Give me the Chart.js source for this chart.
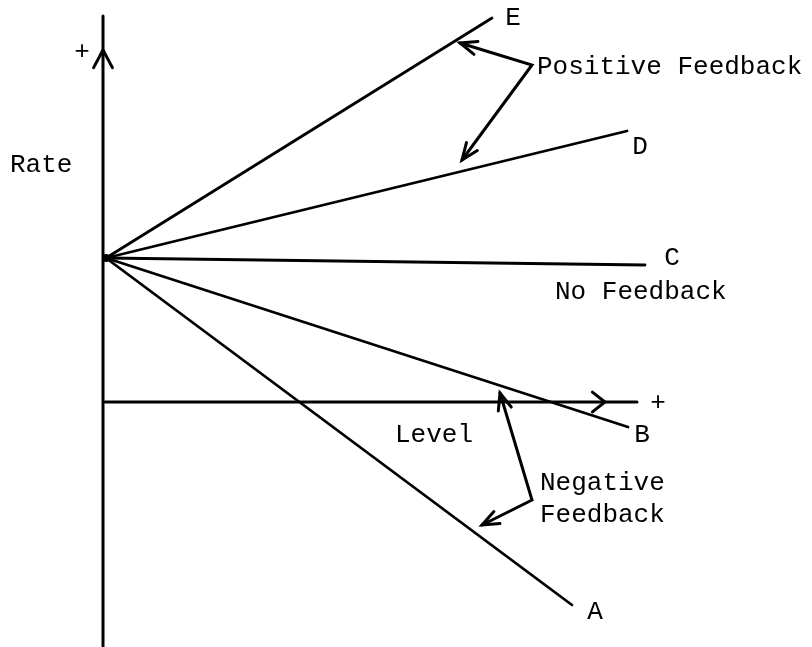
<!DOCTYPE html>
<html>
<head>
<meta charset="utf-8">
<script src="https://cdn.jsdelivr.net/npm/chart.js@4.4.1/dist/chart.umd.min.js"></script>
<style>
  html, body { margin: 0; padding: 0; background: #fff; }
  canvas { display: block; }
</style>
</head>
<body>
<canvas id="chart" width="812" height="647"></canvas>
<script>
// Rate lines, all leaving the same point on the Rate axis
const lineNames = ["A", "B", "C", "D", "E"];
const endLevel = [4.69, 5.25, 5.42, 5.24, 3.89];
const endRate = [-2.03, -0.25, 1.37, 2.71, 3.84];
const startLevel = 0.03;
const startRate = 1.44;

// Axes extent (level axis at rate = 0, rate axis at level = 0)
const levelAxis = [0.02, 5.34];
const rateAxis = [-2.45, 3.86];

// Feedback brackets: [tip, corner, tip]
const positiveBracket = [[3.57, 3.59], [4.29, 3.37], [3.59, 2.42]];
const negativeBracket = [[3.97, 0.09], [4.29, -0.98], [3.79, -1.23]];

const ink = "#000";
const font = '26px "Liberation Mono", "Courier New", monospace';

const pts = (arr) => arr.map((p) => ({ x: p[0], y: p[1] }));

const datasets = [];

// Axes
datasets.push({
  data: [{ x: 0, y: rateAxis[0] }, { x: 0, y: rateAxis[1] }],
  borderColor: ink, borderWidth: 3,
});
datasets.push({
  data: [{ x: levelAxis[0], y: 0 }, { x: levelAxis[1], y: 0 }],
  borderColor: ink, borderWidth: 3,
});

// Lines A..E
lineNames.forEach((name, i) => {
  datasets.push({
    label: name,
    data: [{ x: startLevel, y: startRate }, { x: endLevel[i], y: endRate[i] }],
    borderColor: ink, borderWidth: 2.8,
  });
});

// Brackets
datasets.push({ data: pts(positiveBracket), borderColor: ink, borderWidth: 3 });
datasets.push({ data: pts(negativeBracket), borderColor: ink, borderWidth: 3 });

// Texts
const notes = [
  { text: "+", x: -0.21, y: 3.50, align: "center" },
  { text: "Rate", x: -0.93, y: 2.37, align: "left" },
  { text: "Level", x: 2.92, y: -0.33, align: "left" },
  { text: "+", x: 5.55, y: -0.01, align: "center" },
  { text: "E", x: 4.10, y: 3.84, align: "center" },
  { text: "D", x: 5.37, y: 2.55, align: "center" },
  { text: "C", x: 5.69, y: 1.44, align: "center" },
  { text: "No Feedback", x: 4.52, y: 1.10, align: "left" },
  { text: "B", x: 5.39, y: -0.33, align: "center" },
  { text: "A", x: 4.92, y: -2.10, align: "center" },
  { text: "Positive Feedback", x: 4.34, y: 3.35, align: "left" },
  { text: "Negative", x: 4.37, y: -0.81, align: "left" },
  { text: "Feedback", x: 4.37, y: -1.13, align: "left" },
];

// Arrow heads: tip and a point behind it along the shaft
const heads = [
  { tip: [0, 3.52], from: [0, 2.0], len: 20, ang: 28 },
  { tip: [5.02, 0], from: [4.0, 0], len: 16, ang: 38 },
  { tip: positiveBracket[0], from: positiveBracket[1], len: 18, ang: 22 },
  { tip: positiveBracket[2], from: positiveBracket[1], len: 18, ang: 22 },
  { tip: negativeBracket[0], from: negativeBracket[1], len: 18, ang: 22 },
  { tip: negativeBracket[2], from: negativeBracket[1], len: 18, ang: 22 },
];

const decor = {
  id: "decor",
  afterDatasetsDraw(chart) {
    const { ctx, scales: { x, y } } = chart;
    ctx.save();
    ctx.strokeStyle = ink;
    ctx.fillStyle = ink;
    ctx.lineWidth = 3;
    ctx.lineCap = "round";

    heads.forEach((h) => {
      const tx = x.getPixelForValue(h.tip[0]), ty = y.getPixelForValue(h.tip[1]);
      const fx = x.getPixelForValue(h.from[0]), fy = y.getPixelForValue(h.from[1]);
      const a = Math.atan2(ty - fy, tx - fx);
      const d = (h.ang * Math.PI) / 180;
      ctx.beginPath();
      ctx.moveTo(tx - h.len * Math.cos(a - d), ty - h.len * Math.sin(a - d));
      ctx.lineTo(tx, ty);
      ctx.lineTo(tx - h.len * Math.cos(a + d), ty - h.len * Math.sin(a + d));
      ctx.stroke();
    });

    // common origin dot
    ctx.beginPath();
    ctx.arc(x.getPixelForValue(startLevel), y.getPixelForValue(startRate), 4, 0, Math.PI * 2);
    ctx.fill();

    ctx.font = font;
    ctx.textBaseline = "middle";
    notes.forEach((n) => {
      ctx.textAlign = n.align;
      ctx.fillText(n.text, x.getPixelForValue(n.x), y.getPixelForValue(n.y));
    });
    ctx.restore();
  },
};

new Chart(document.getElementById("chart"), {
  type: "scatter",
  data: { datasets },
  options: {
    responsive: false,
    animation: false,
    events: [],
    layout: { padding: 0 },
    datasets: {
      scatter: { showLine: true, pointRadius: 0, fill: false, tension: 0, borderCapStyle: "round" },
    },
    scales: {
      x: { type: "linear", min: -1.03, max: 7.09, display: false },
      y: { type: "linear", min: -2.45, max: 4.02, display: false },
    },
    plugins: { legend: { display: false }, tooltip: { enabled: false } },
  },
  plugins: [decor],
});
</script>
</body>
</html>
